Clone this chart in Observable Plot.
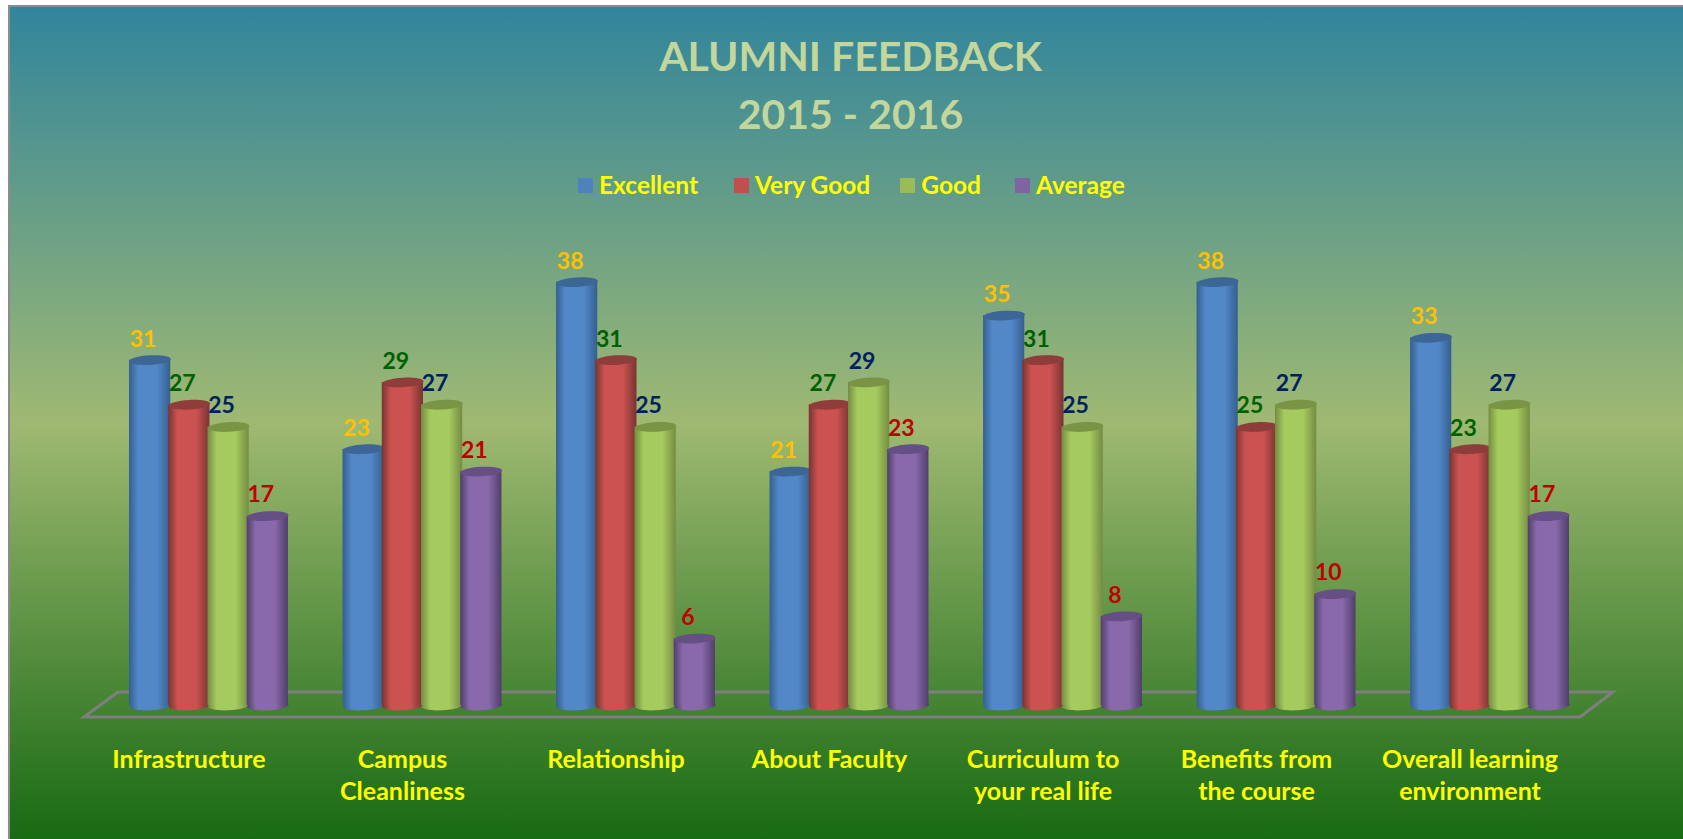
<!DOCTYPE html>
<html>
<head>
<meta charset="utf-8">
<script src="https://cdn.jsdelivr.net/npm/d3@7"></script>
<script src="https://cdn.jsdelivr.net/npm/@observablehq/plot@0.6"></script>
<style>
html,body{margin:0;padding:0;background:#fff;}
#chart{position:absolute;left:8px;top:5px;width:1675px;height:834px;box-sizing:border-box;border-left:2px solid #8c8c8c;border-top:2px solid #8c8c8c;overflow:hidden;
background:linear-gradient(to bottom,#31859c 0%,#9fb972 50%,#186a13 100%);font-family:Lato,sans-serif;font-weight:700;}
#title{position:absolute;left:0;width:1675px;top:20px;text-align:center;color:#c3d69b;font-size:41px;line-height:58px;transform:translateX(3px);}
#legend{position:absolute;left:568px;top:161px;display:flex;align-items:center;font-size:24.5px;line-height:34px;color:#ffff00;white-space:nowrap;}
#legend span.sw{display:inline-block;width:15px;height:15px;margin-right:6px;}
#legend span.it{display:flex;align-items:center;margin-right:34px;}
#legend span.it:nth-child(1){margin-right:36px;}
#legend span.it:nth-child(2){margin-right:30px;}
#plot{position:absolute;left:-10px;top:193px;}
svg{display:block;background:transparent;}
</style>
</head>
<body>
<div id="chart">
  <div id="title"></div>
  <div id="legend"></div>
  <div id="plot"></div>
</div>
<script>
const titleLines = ["ALUMNI FEEDBACK", "2015 - 2016"];
const categories = ["Infrastructure", "Campus\nCleanliness", "Relationship", "About Faculty", "Curriculum to\nyour real life", "Benefits from\nthe course", "Overall learning\nenvironment"];
const series = ["Excellent", "Very Good", "Good", "Average"];
const excellent = [31, 23, 38, 21, 35, 38, 33];
const veryGood = [27, 29, 31, 27, 31, 25, 23];
const good = [25, 27, 25, 29, 25, 27, 27];
const average = [17, 21, 6, 23, 8, 10, 17];
const seriesValues = [excellent, veryGood, good, average];
const swatchColors = ["#4f81bd", "#c0504d", "#9bbb59", "#8064a2"];
const edgeColors = ["#35608f", "#773432", "#748c42", "#503e6b"];
const midColors = ["#5287c8", "#cb5250", "#a5ca5e", "#8969ab"];
const capColors = ["#3c6696", "#8f3d3b", "#7a9446", "#664f84"];
const labelColors = ["#ffc000", "#006100", "#002060", "#c00000"];

document.getElementById("title").innerHTML = titleLines.map(t => `<div>${t}</div>`).join("");
document.getElementById("legend").innerHTML = series.map((s, i) =>
  `<span class="it"><span class="sw" style="background:${swatchColors[i]}"></span>${s}</span>`).join("");

const rows = categories.flatMap((c, ci) => series.map((s, si) => ({category: c, series: s, value: seriesValues[si][ci]})));

// Tilted flat ellipse, used for the cylinder's top and bottom faces.
function ellipse(rx, ry, deg) {
  const a = deg * Math.PI / 180, k = 0.5523;
  const p = (x, y) => [x * Math.cos(a) - y * Math.sin(a), x * Math.sin(a) + y * Math.cos(a)];
  return {draw(ctx) {
    ctx.moveTo(...p(rx, 0));
    ctx.bezierCurveTo(...p(rx, k * ry), ...p(k * rx, ry), ...p(0, ry));
    ctx.bezierCurveTo(...p(-k * rx, ry), ...p(-rx, k * ry), ...p(-rx, 0));
    ctx.bezierCurveTo(...p(-rx, -k * ry), ...p(-k * rx, -ry), ...p(0, -ry));
    ctx.bezierCurveTo(...p(k * rx, -ry), ...p(rx, -k * ry), ...p(rx, 0));
    ctx.closePath();
  }};
}
const capShape = ellipse(20.8, 4.8, -3);

const common = {fx: "category", x: "series"};
const marks = series.flatMap((s, i) => {
  const data = rows.filter(d => d.series === s);
  return [
    Plot.dot(data, {...common, y: () => 0, symbol: capShape, fill: `url(#cyl${i})`}),
    Plot.barY(data, {...common, y: "value", fill: `url(#cyl${i})`, insetLeft: -1, insetRight: -1}),
    Plot.dot(data, {...common, y: "value", symbol: capShape, fill: capColors[i]})
  ];
});
marks.push(
  ...series.map((s, i) => Plot.text(rows.filter(d => d.series === s), {
    ...common, y: "value", text: "value", fill: labelColors[i], dx: -7, dy: -21,
    fontSize: 23, fontWeight: 700
  })),
  Plot.axisFx({anchor: "bottom", tickSize: 0, tickPadding: 40, dx: -20, fontSize: 25, fontWeight: 700,
    fill: "#ffff00", lineHeight: 1.28, label: null})
);

const chart = Plot.plot({
  width: 1683,
  height: 639,
  marginLeft: 130,
  marginRight: 115,
  marginTop: 59.4,
  marginBottom: 134,
  style: {background: "transparent", fontFamily: "Lato, sans-serif"},
  fx: {domain: categories, padding: 0.265, round: false, label: null},
  x: {domain: series, padding: 0, round: false, axis: null},
  y: {domain: [0, 40], axis: null},
  marks
});

const root = d3.select(chart);
const defs = root.insert("defs", ":first-child");
series.forEach((s, i) => {
  const g = defs.append("linearGradient").attr("id", `cyl${i}`).attr("x1", 0).attr("x2", 1).attr("y1", 0).attr("y2", 0);
  [[0, edgeColors[i]], [0.22, midColors[i]], [0.68, midColors[i]], [1, edgeColors[i]]]
    .forEach(([o, c]) => g.append("stop").attr("offset", o).attr("stop-color", c));
});
// Floor of the 3D chart, behind the cylinders.
const y0 = chart.scale("y").apply(0);
root.insert("path", "defs + *")
  .attr("d", `M84,${y0 + 12}L1580,${y0 + 12}L1613,${y0 - 13}L118,${y0 - 13}Z`)
  .attr("fill", "none").attr("stroke", "#7f7f7f").attr("stroke-width", 3);

document.getElementById("plot").appendChild(chart);
</script>
</body>
</html>
